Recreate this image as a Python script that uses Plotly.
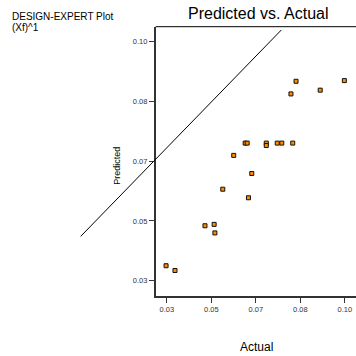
import plotly.graph_objects as go

W = H = 356

# data
actual = [0.0297, 0.0332, 0.0450, 0.0486, 0.0489, 0.0520, 0.0621, 0.0563, 0.0634, 0.0608,
          0.0616, 0.0691, 0.0691, 0.0734, 0.0752, 0.0795, 0.0788, 0.0808, 0.0903, 0.0998]
predicted = [0.0344, 0.0330, 0.0461, 0.0465, 0.0440, 0.0568, 0.0543, 0.0667, 0.0614, 0.0703,
             0.0703, 0.0703, 0.0696, 0.0703, 0.0703, 0.0703, 0.0847, 0.0884, 0.0858, 0.0886]
line_actual = [-0.00387, 0.07504]
line_predicted = [0.04299, 0.10343]
tick_vals = [0.03, 0.0475, 0.065, 0.0825, 0.10]
tick_text = ["0.03", "0.05", "0.07", "0.08", "0.10"]
x_range = [0.025625, 0.104375]
y_range = [0.025625, 0.104375]

FONT = "Liberation Sans, Arial, sans-serif"

# plot area in pixels
left_px, right_px, top_px, bottom_px = 155.7, 356.0, 26.7, 295.7
xd = [left_px / W, right_px / W]
yd = [(H - bottom_px) / H, (H - top_px) / H]

# companion x-axis spanning the whole width with the same scale
per = (x_range[1] - x_range[0]) / (xd[1] - xd[0])
x2_range = [x_range[0] - xd[0] * per, x_range[0] + (1 - xd[0]) * per]

fig = go.Figure()
fig.add_trace(go.Scatter(x=line_actual, y=line_predicted, mode="lines",
                         line=dict(color="black", width=1), xaxis="x2", yaxis="y",
                         showlegend=False, hoverinfo="skip"))
fig.add_trace(go.Scatter(x=actual, y=predicted, mode="markers",
                         marker=dict(symbol="square", size=4, color="#FF8C00",
                                     line=dict(color="#111111", width=1)),
                         showlegend=False, cliponaxis=False))

axis_common = dict(showgrid=False, zeroline=False, showline=True, linecolor="#333333",
                   linewidth=1.5, ticks="outside", tickcolor="#333333", tickwidth=1,
                   tickvals=tick_vals, ticktext=tick_text,
                   tickfont=dict(family=FONT, size=7.5, color="#333333"), automargin=False)

fig.update_layout(
    width=W, height=H, margin=dict(l=0, r=0, t=0, b=0),
    paper_bgcolor="white", plot_bgcolor="rgba(0,0,0,0)",
    xaxis=dict(domain=xd, range=x_range, ticklen=6, anchor="y", **axis_common),
    yaxis=dict(domain=yd, range=y_range, ticklen=5, anchor="x", **axis_common),
    xaxis2=dict(domain=[0, 1], range=x2_range, visible=False, anchor="y"),
    shapes=[dict(type="line", xref="paper", yref="paper", x0=xd[0], x1=xd[1],
                 y0=yd[1], y1=yd[1], line=dict(color="black", width=1))],
    annotations=[
        dict(text="Predicted vs. Actual", x=258 / W, y=1 - 13 / H, xref="paper", yref="paper",
             showarrow=False, font=dict(family=FONT, size=16, color="black"),
             xanchor="center", yanchor="middle"),
        dict(text="DESIGN-EXPERT Plot", x=10 / W, y=1 - 16 / H, xref="paper", yref="paper",
             showarrow=False, font=dict(family=FONT, size=10, color="black"),
             xanchor="left", yanchor="middle"),
        dict(text="(Xf)^1", x=10 / W, y=1 - 27 / H, xref="paper", yref="paper",
             showarrow=False, font=dict(family=FONT, size=10, color="black"),
             xanchor="left", yanchor="middle"),
        dict(text="Predicted", x=116.7 / W, y=1 - 166 / H, xref="paper", yref="paper",
             showarrow=False, textangle=-90, font=dict(family=FONT, size=9, color="black"),
             xanchor="center", yanchor="middle"),
        dict(text="Actual", x=256.7 / W, y=1 - 346.7 / H, xref="paper", yref="paper",
             showarrow=False, font=dict(family=FONT, size=12, color="black"),
             xanchor="center", yanchor="middle"),
    ],
)

fig.write_html("out.html", config={"displayModeBar": False},
               post_script="document.body.style.margin='0';")
